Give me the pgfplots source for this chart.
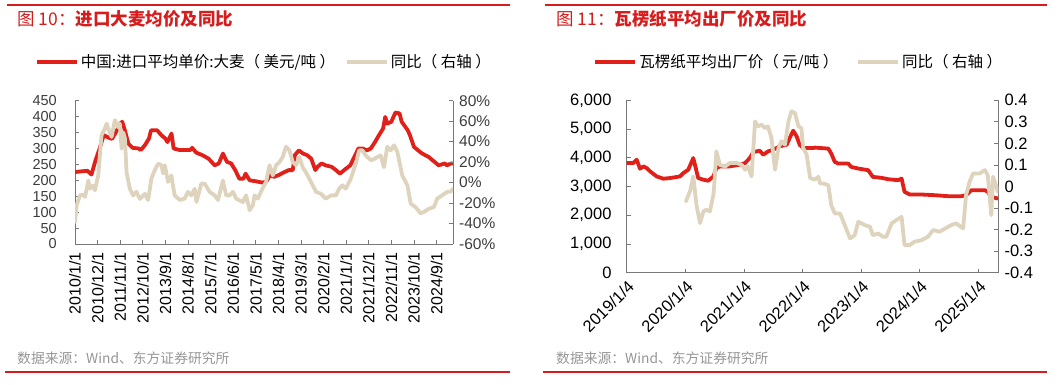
\documentclass[border=0pt]{standalone}
\usepackage{pgfplots}
\pgfplotsset{compat=1.18}
\usepackage{fontspec}
\usepackage{graphicx}
\setmainfont{Liberation Sans}
\newfontfamily\cjk{Noto Sans CJK SC}
\definecolor{cred}{RGB}{226,32,26}
\definecolor{cbeige}{RGB}{222,212,189}
\definecolor{tred}{RGB}{214,28,28}
\definecolor{axgray}{RGB}{120,120,120}
\definecolor{labgray}{RGB}{60,60,60}
\definecolor{srcgray}{RGB}{150,150,150}
\pgfplotsset{
  base/.style={scale only axis, tick align=inside, major tick length=4pt,
    axis line style={axgray, line width=0.8pt}, tick style={axgray, line width=0.8pt}},
  redl/.style={cred, line width=3.8pt, line join=round, line cap=round},
  beigel/.style={cbeige, line width=3.8pt, line join=round, line cap=round},
}
\begin{document}
\begin{tikzpicture}
\useasboundingbox (0pt,0pt) rectangle (1061pt,385pt);
% decorations
\draw[tred, line width=1.2pt] (7pt,380pt) -- (510pt,380pt);
\draw[tred, line width=1.2pt] (545pt,380pt) -- (1047pt,380pt);
\draw[tred, line width=1.2pt] (5pt,13pt) -- (510pt,13pt);
\draw[tred, line width=1.2pt] (543pt,13pt) -- (1047pt,13pt);
\node[anchor=west, text=tred, inner sep=0pt] at (17pt,366pt) {\cjk\fontsize{17.5}{20}\selectfont 图 10：\bfseries 进口大麦均价及同比};
\node[anchor=west, text=tred, inner sep=0pt] at (556pt,366pt) {\cjk\fontsize{17.5}{20}\selectfont 图 11：\bfseries 瓦楞纸平均出厂价及同比};
\node[anchor=west, text=srcgray, inner sep=0pt] at (17pt,27pt) {\cjk\fontsize{13.8}{15}\selectfont 数据来源：Wind、东方证券研究所};
\node[anchor=west, text=srcgray, inner sep=0pt] at (556pt,27pt) {\cjk\fontsize{13.8}{15}\selectfont 数据来源：Wind、东方证券研究所};

% ---------- left panel ----------
\begin{axis}[base, at={(75pt,141pt)}, anchor=south west, width=378pt, height=143.3pt,
  xmin=0, xmax=184, ymin=0, ymax=450,
  axis x line*=bottom, axis y line*=left,
  ytick={0,50,100,150,200,250,300,350,400,450},
  yticklabels={0,50,100,150,200,250,300,350,400,450},
  yticklabel style={font=\fontsize{14.5}{16}\selectfont, text=labgray, inner sep=1pt},
  yticklabel shift=17pt,
  xtick={0,11,22,33,44,55,66,77,88,99,110,121,132,143,154,165,176},
  xticklabels={2010/1/1,2010/12/1,2011/11/1,2012/10/1,2013/9/1,2014/8/1,2015/7/1,2016/6/1,2017/5/1,2018/4/1,2019/3/1,2020/2/1,2021/1/1,2021/12/1,2022/11/1,2023/10/1,2024/9/1},
  xticklabel style={rotate=90, anchor=east, font=\fontsize{16}{17}\selectfont, inner sep=0pt},
  xticklabel shift=8pt,
  legend columns=2,
  legend style={draw=none, fill=none, at={(0.5,1.27)}, anchor=center,
    font=\cjk\fontsize{15.5}{18}\selectfont, /tikz/every even column/.append style={column sep=8pt}},
  legend image code/.code={\draw[#1, line cap=butt] (0pt,0pt) -- (40pt,0pt);},
]
\addplot[redl] coordinates {
(0,226)(3,228)(6,230)(8,218)(10,263)(12,300)(14,342)(16,335)(18,330)(20,352)(22,378)(23,384)(24,363)(26,315)(28,302)(31,300)(32,295)(34,310)(36,331)(37,357)(40,357)(42,342)(44,331)(45,320)(47,347)(48,300)(51,295)(56,295)(57,302)(59,287)(62,279)(65,268)(68,247)(70,253)(72,284)(74,258)(76,253)(78,232)(80,205)(82,205)(83,221)(85,200)(88,197)(91,193)(93,195)(95,216)(97,211)(99,216)(102,226)(104,232)(106,232)(107,279)(109,294)(111,284)(113,279)(115,268)(117,232)(118,242)(120,253)(122,247)(125,242)(127,232)(129,221)(131,232)(134,247)(136,274)(138,300)(140,300)(142,294)(144,300)(146,320)(148,342)(150,363)(151,399)(152,378)(154,384)(155,399)(156,413)(158,410)(159,384)(162,357)(163,342)(165,305)(167,294)(169,284)(172,274)(175,258)(177,247)(180,253)(181,247)(183,253)(184,253)
};
\addlegendentry{中国:进口平均单价:大麦（ 美元/吨 ）}
\addlegendimage{beigel}
\addlegendentry{同比（ 右轴 ）}
\end{axis}
\begin{axis}[base, at={(75pt,141pt)}, anchor=south west, width=378pt, height=143.3pt,
  xmin=0, xmax=184, ymin=-60, ymax=80,
  axis x line=none, axis y line*=right, xtick=\empty,
  ytick={-60,-40,-20,0,20,40,60,80},
  yticklabels={-60\%,-40\%,-20\%,0\%,20\%,40\%,60\%,80\%},
  yticklabel style={font=\fontsize{15.5}{17}\selectfont, text=labgray, inner sep=1pt},
  yticklabel shift=5pt,
]
\addplot[beigel] coordinates {
(0,-38.5)(0.8,-22)(2.4,-12.5)(4,-12)(4.9,-14)(6.5,2)(7.3,-6)(8.9,-3)(9.7,-7.5)(11.3,7)(12.9,46)(14.6,53)(15.4,57.6)(16.2,52.7)(17.8,44.6)(19.4,61)(21,54)(21.8,57.6)(22.7,33)(23.5,49)(24.3,43)(25.1,10)(26.7,-6)(28.3,-12.5)(29.9,-9)(31.6,-16)(33.2,-12.5)(34,-11)(35.6,-17)(37.2,4)(38.8,12)(40.5,18.5)(42.1,17)(42.9,9)(43.7,17)(45.3,0.6)(46.9,7)(48.5,-12.5)(51,-17)(53.4,-15.7)(55,-9)(56.6,-12.5)(58.3,-6)(59.1,-19)(61.5,-1)(63.1,-1)(65.5,-9)(68,-12.5)(69.6,-17)(72,2)(73.6,-12.5)(75.2,-12.5)(76.9,-9)(78.5,-15.7)(81.7,-19)(83.3,-12.5)(85,-27)(86.6,-22)(87.4,-12.5)(89,-15.7)(90.5,-9)(92,-3)(93,0.6)(94.7,17)(96.3,7)(97.9,17)(99.5,20)(101.1,25)(102.7,35)(104.4,31.5)(106,20)(107.6,17)(109.2,25)(110.8,15)(112.4,10)(114,4)(115.7,-2.7)(117.3,-9)(119.7,-11)(122.1,-15.7)(124.6,-12.5)(127,-12.5)(128.6,-6)(130.2,-2.7)(131.8,-6)(134.3,4)(136.7,18.5)(138.3,31.5)(139.9,31.5)(141.5,26.6)(144,21.8)(145.6,23)(147.2,25)(148.8,26.6)(150.4,15)(152,35)(153.7,31.5)(155.3,36.4)(156.9,30)(159.3,7)(161.8,-2.7)(163.4,-20.6)(165.8,-24)(168.2,-30)(169.8,-28.7)(172.3,-25.5)(174.7,-24)(176.3,-15.7)(178.7,-12.5)(181.2,-9)(182.8,-9)(184,-6)
};
\end{axis}

% ---------- right panel ----------
\begin{axis}[base, at={(626.7pt,112.3pt)}, anchor=south west, width=371.6pt, height=172.4pt,
  xmin=0, xmax=6.34, ymin=0, ymax=6000,
  axis x line*=bottom, axis y line*=left,
  ytick={0,1000,2000,3000,4000,5000,6000},
  yticklabels={0,{1,000},{2,000},{3,000},{4,000},{5,000},{6,000}},
  yticklabel style={font=\fontsize{16.5}{18}\selectfont, text=black, inner sep=1pt},
  yticklabel shift=14pt,
  xtick={0,1,2,3,4,5,6},
  xticklabels={2019/1/4,2020/1/4,2021/1/4,2022/1/4,2023/1/4,2024/1/4,2025/1/4},
  xticklabel style={rotate=45, anchor=north east, font=\fontsize{16.5}{18}\selectfont, inner sep=1pt},
  xticklabel shift=5pt,
  legend columns=2,
  legend style={draw=none, fill=none, at={(0.463,1.224)}, anchor=center,
    font=\cjk\fontsize{15.5}{18}\selectfont, /tikz/every even column/.append style={column sep=16pt}},
  legend image code/.code={\draw[#1, line cap=butt] (0pt,0pt) -- (40pt,0pt);},
]
\addplot[redl] coordinates {
(0,3816)(0.114,3816)(0.17,3932)(0.227,3619)(0.284,3700)(0.34,3642)(0.4,3526)(0.45,3445)(0.51,3352)(0.625,3271)(0.74,3294)(0.91,3352)(0.966,3468)(1.05,3584)(1.136,3990)(1.22,3294)(1.31,3236)(1.39,3200)(1.48,3352)(1.53,3642)(1.59,3700)(1.76,3700)(1.93,3758)(2.02,3816)(2.1,3990)(2.16,4199)(2.27,4245)(2.33,4106)(2.41,4222)(2.5,4280)(2.61,4396)(2.73,4454)(2.78,4686)(2.84,4942)(2.9,4744)(2.95,4454)(3.01,4338)(3.18,4338)(3.21,4354)(3.44,4319)(3.49,4146)(3.55,3856)(3.61,3798)(3.78,3798)(3.83,3682)(3.95,3625)(4.12,3567)(4.2,3335)(4.35,3300)(4.46,3254)(4.63,3219)(4.69,3277)(4.74,2814)(4.83,2721)(5.03,2721)(5.25,2698)(5.48,2663)(5.71,2663)(5.79,2698)(5.88,2872)(6.11,2872)(6.16,2814)(6.22,2640)(6.33,2582)
};
\addlegendentry{瓦楞纸平均出厂价（ 元/吨 ）}
\addlegendimage{beigel}
\addlegendentry{同比（ 右轴 ）}
\end{axis}
\begin{axis}[base, at={(626.7pt,112.3pt)}, anchor=south west, width=371.6pt, height=172.4pt,
  xmin=0, xmax=6.34, ymin=-0.4, ymax=0.4,
  axis x line=none, axis y line*=right, xtick=\empty,
  ytick={-0.4,-0.3,-0.2,-0.1,0,0.1,0.2,0.3,0.4},
  yticklabels={-0.4,-0.3,-0.2,-0.1,0,0.1,0.2,0.3,0.4},
  yticklabel style={font=\fontsize{16.5}{18}\selectfont, text=black, inner sep=1pt},
  yticklabel shift=5pt,
]
\addplot[beigel] coordinates {
(1.01,-0.069)(1.08,-0.022)(1.136,0.047)(1.19,-0.085)(1.25,-0.17)(1.31,-0.115)(1.36,-0.108)(1.42,-0.115)(1.48,-0.038)(1.5,0.032)(1.53,0.163)(1.59,0.10)(1.68,0.093)(1.76,0.109)(1.875,0.109)(1.96,0.101)(2.02,0.078)(2.07,0.093)(2.13,0.047)(2.19,0.302)(2.24,0.279)(2.3,0.287)(2.36,0.271)(2.41,0.279)(2.47,0.225)(2.53,0.078)(2.59,0.179)(2.64,0.21)(2.7,0.194)(2.76,0.302)(2.81,0.349)(2.87,0.341)(2.93,0.279)(2.98,0.271)(3.01,0.179)(3.07,0.148)(3.13,0.039)(3.21,0.032)(3.27,0.045)(3.3,0.014)(3.35,0.014)(3.44,0.006)(3.49,-0.087)(3.55,-0.125)(3.64,-0.125)(3.72,-0.179)(3.81,-0.241)(3.89,-0.226)(3.95,-0.164)(4.06,-0.179)(4.15,-0.187)(4.2,-0.226)(4.29,-0.218)(4.37,-0.233)(4.43,-0.233)(4.52,-0.171)(4.6,-0.156)(4.69,-0.141)(4.74,-0.272)(4.83,-0.272)(4.91,-0.256)(5.03,-0.249)(5.14,-0.233)(5.23,-0.202)(5.34,-0.21)(5.43,-0.195)(5.54,-0.179)(5.62,-0.171)(5.74,-0.195)(5.79,-0.04)(5.85,0.022)(5.91,0.06)(6.02,0.06)(6.11,0.076)(6.16,0.052)(6.19,-0.04)(6.22,-0.133)(6.25,0.045)(6.3,0.006)(6.33,-0.025)
};
\end{axis}
\end{tikzpicture}
\end{document}
